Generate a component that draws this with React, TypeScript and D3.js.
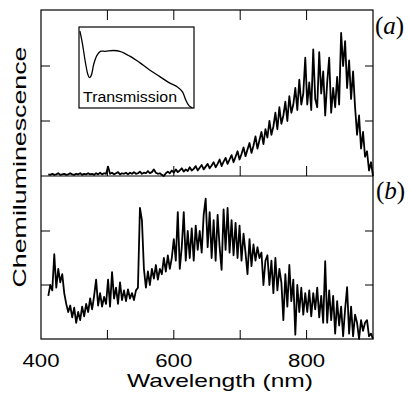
import React from 'react'
import * as d3 from 'd3'

const width = 410
const height = 395

// wavelength grid of both spectra: first sample and spacing (nm)
const startWl = 411
const stepWl = 3

// panel (a) chemiluminescence (rows of 30 nm)
const spectrumA = [
  0.03, 0.02, 0.04, 0.02, 0.03, 0.05, 0.02, 0.03, 0.04, 0.02,
  0.03, 0.05, 0.03, 0.02, 0.04, 0.03, 0.05, 0.02, 0.04, 0.03,
  0.05, 0.03, 0.04, 0.02, 0.05, 0.03, 0.06, 0.03, 0.05, 0.04,
  0.17, 0.04, 0.06, 0.03, 0.05, 0.07, 0.03, 0.05, 0.04, 0.06,
  0.03, 0.06, 0.04, 0.07, 0.04, 0.05, 0.08, 0.04, 0.06, 0.05,
  0.09, 0.05, 0.07, 0.12, 0.06, 0.04, 0.05, 0.02, 0.0, 0.05,
  0.08, 0.05, 0.1, 0.06, 0.12, 0.07, 0.1, 0.14, 0.08, 0.12,
  0.09, 0.16, 0.1, 0.13, 0.18, 0.1, 0.15, 0.2, 0.12, 0.17,
  0.22, 0.14, 0.19, 0.25, 0.16, 0.22, 0.3, 0.18, 0.26, 0.33,
  0.22, 0.3, 0.38, 0.25, 0.35, 0.45, 0.3, 0.4, 0.52, 0.36,
  0.48, 0.6, 0.42, 0.55, 0.72, 0.5, 0.65, 0.8, 0.58, 0.85,
  0.7, 1.0, 0.75, 0.9, 1.15, 0.85, 1.25, 0.95, 1.1, 1.35,
  1.0, 1.45, 1.15, 1.3, 1.6, 1.2, 1.75, 1.3, 1.5, 2.15,
  1.3, 1.7, 1.2, 2.3, 1.4, 1.25, 2.25, 1.5, 1.9, 1.1,
  1.7, 2.15, 1.15, 1.6, 1.25, 1.8, 1.3, 2.6, 2.0, 2.45,
  1.6, 2.1, 1.4, 1.9, 1.25, 0.75, 1.1, 0.5, 0.8, 0.35,
  0.45, 0.1, 0.25, 0.0,
]

// panel (b) chemiluminescence
const spectrumB = [
  0.8, 1.0, 0.9, 1.57, 0.95, 1.3, 1.05, 1.2, 0.85, 0.65,
  0.5, 0.62, 0.4, 0.58, 0.3, 0.5, 0.35, 0.6, 0.42, 0.65,
  0.5, 0.75, 0.55, 0.8, 1.1, 0.62, 0.85, 0.6, 0.78, 0.65,
  1.1, 0.6, 1.24, 0.75, 0.95, 0.65, 1.05, 0.72, 0.9, 0.7,
  0.92, 0.75, 0.85, 0.72, 0.9, 0.95, 2.43, 2.2, 1.3, 0.95,
  1.25, 1.0, 1.3, 1.12, 1.37, 1.1, 1.3, 1.2, 1.5, 1.25,
  1.55, 1.3, 1.5, 1.85, 1.45, 2.35, 1.3, 1.7, 2.35, 1.45,
  2.0, 1.5, 2.05, 1.45, 2.1, 1.65, 2.0, 1.6, 2.3, 2.6,
  1.7, 2.35, 1.5, 2.2, 1.45, 2.3, 1.7, 1.28, 2.4, 1.65,
  2.43, 1.6, 2.2, 1.55, 2.15, 1.5, 2.1, 1.45, 1.95, 1.6,
  1.2, 1.85, 1.35, 1.75, 1.45, 1.7, 1.5, 1.6, 1.0, 1.45,
  1.55, 1.0, 1.45, 0.85, 1.5, 0.9, 1.3, 1.05, 0.35, 1.2,
  0.6, 1.37, 0.7, 1.1, 0.08, 1.0, 0.5, 0.95, 0.45, 0.85,
  0.5, 0.9, 0.42, 0.85, 0.55, 0.95, 0.4, 0.8, 0.3, 1.44,
  0.3, 0.9, 0.35, 0.8, 0.1, 0.7, 0.25, 0.6, 0.05, 0.55,
  0.96, 0.1, 0.6, 0.05, 0.45, 0.3, 0.0, 0.35, 0.15, 0.3,
  0.35, 0.05, 0.1, 0.0,
]

// inset: transmission curve
const transWl = [404, 414, 428, 438, 445, 453, 464, 478, 493, 514, 550, 578, 621, 664, 707, 750, 793, 828, 850, 864, 878, 893]
const transVal = [0.95, 0.81, 0.56, 0.42, 0.375, 0.4, 0.54, 0.65, 0.7, 0.7, 0.71, 0.7, 0.64, 0.56, 0.47, 0.39, 0.31, 0.26, 0.2, 0.1, 0.03, 0.0]

const xTicks = [500, 600, 700, 800]
const xLabels = [400, 600, 800]
const yTicks = [1, 2]

const left = 41
const right = 373
const top = 10
const mid = 176
const bottom = 339

const x = d3.scaleLinear().domain([400, 900]).range([left, right])
const yA = d3.scaleLinear().domain([0, 3]).range([mid, mid - 165])
const yB = d3.scaleLinear().domain([0, 3]).range([bottom, bottom - 162])

const xIn = d3.scaleLinear().domain([400, 900]).range([79, 194])
const yIn = d3.scaleLinear().domain([0, 1]).range([108, 27])

const sans = "'Liberation Sans', Arial, sans-serif"
const serif = "'Liberation Serif', 'Times New Roman', serif"

export default function App() {
  const lineA = d3.line<number>()
    .x((_, i) => x(startWl + i * stepWl))
    .y(d => yA(d))
  const lineB = d3.line<number>()
    .x((_, i) => x(startWl + i * stepWl))
    .y(d => yB(d))
  const lineT = d3.line<number>()
    .x((_, i) => xIn(transWl[i]))
    .y(d => yIn(d))
    .curve(d3.curveCatmullRom)

  return (
    <svg width={width} height={height} style={{ position: 'absolute', left: 0, top: 0, background: '#fff' }}>
      <rect x={left} y={top} width={right - left} height={bottom - top} fill="none" stroke="#000" strokeWidth={1.2} />
      <line x1={left} x2={right} y1={mid} y2={mid} stroke="#000" strokeWidth={1.2} />

      {xTicks.map(t => (
        <g key={t}>
          <line x1={x(t)} x2={x(t)} y1={top} y2={top + 10} stroke="#000" />
          <line x1={x(t)} x2={x(t)} y1={mid} y2={mid - 10} stroke="#000" />
          <line x1={x(t)} x2={x(t)} y1={bottom} y2={bottom - 9} stroke="#000" />
        </g>
      ))}
      {yTicks.map(t => (
        <g key={t}>
          <line x1={left} x2={left + 9} y1={yA(t)} y2={yA(t)} stroke="#000" />
          <line x1={right} x2={right - 8} y1={yA(t)} y2={yA(t)} stroke="#000" />
          <line x1={left} x2={left + 9} y1={yB(t)} y2={yB(t)} stroke="#000" />
          <line x1={right} x2={right - 8} y1={yB(t)} y2={yB(t)} stroke="#000" />
        </g>
      ))}

      <path d={lineA(spectrumA) ?? ''} fill="none" stroke="#000" strokeWidth={1.8} strokeLinejoin="round" />
      <path d={lineB(spectrumB) ?? ''} fill="none" stroke="#000" strokeWidth={1.8} strokeLinejoin="round" />

      <rect x={79} y={27} width={115} height={81} fill="#fff" stroke="#000" strokeWidth={1.2} />
      <path d={lineT(transVal) ?? ''} fill="none" stroke="#000" strokeWidth={1.3} />
      <text x={83} y={102} fontFamily={sans} fontSize={14} textLength={94} lengthAdjust="spacingAndGlyphs">Transmission</text>

      <text x={375} y={34} fontFamily={serif} fontSize={25}>(<tspan fontStyle="italic">a</tspan>)</text>
      <text x={376} y={199} fontFamily={serif} fontSize={25}>(<tspan fontStyle="italic">b</tspan>)</text>

      {xLabels.map(t => (
        <text key={t} x={x(t)} y={367} textAnchor="middle" fontFamily={sans} fontSize={18} textLength={37} lengthAdjust="spacingAndGlyphs">{t}</text>
      ))}
      <text x={220} y={387} textAnchor="middle" fontFamily={sans} fontSize={19} textLength={186} lengthAdjust="spacingAndGlyphs">Wavelength (nm)</text>
      <text transform="translate(26,167) rotate(-90)" textAnchor="middle" fontFamily={sans} fontSize={19} textLength={241} lengthAdjust="spacingAndGlyphs">Chemiluminescence</text>
    </svg>
  )
}
